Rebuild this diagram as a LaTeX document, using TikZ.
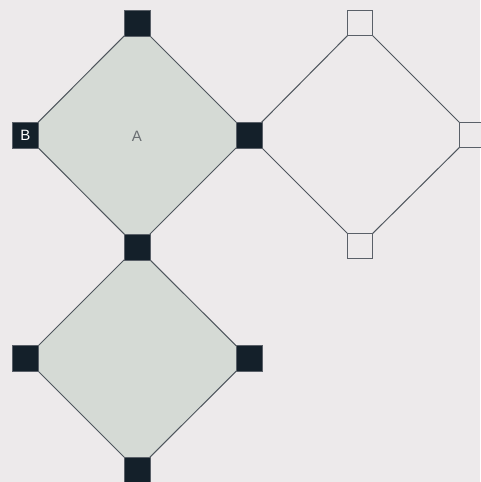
\documentclass[tikz,border=0pt]{standalone}
\usepackage{fontspec}
\setmainfont{Liberation Sans}
\definecolor{bg}{HTML}{EDEAEB}
\definecolor{dfill}{HTML}{D5DAD5}
\definecolor{dline}{HTML}{4F565D}
\definecolor{sqdark}{HTML}{14202A}
\definecolor{sqedge}{HTML}{5A6068}
\definecolor{txtgray}{HTML}{6A6E72}
\tikzset{
  darksq/.style={draw=sqedge, line width=0.9pt, fill=sqdark, minimum size=26pt, inner sep=0pt, text=white, font=\fontsize{15}{17}\selectfont},
  opensq/.style={draw=sqedge, line width=1.2pt, fill=bg, minimum size=25pt, inner sep=0pt},
  diamondfill/.style={fill=dfill, draw=dline, line width=1pt, line join=miter},
  diamondopen/.style={draw=dline, line width=1pt}
}
\begin{document}
\begin{tikzpicture}[x=1pt,y=-1pt]
\fill[bg] (0,0) rectangle (480,482);
\useasboundingbox (0,0) rectangle (480,482);
% coordinates of vertices
\coordinate (p1) at (137,23);
\coordinate (p2) at (25.5,135);
\coordinate (p3) at (249,135);
\coordinate (p4) at (137,247);
\coordinate (p5) at (25.5,358.5);
\coordinate (p6) at (249,358.5);
\coordinate (p7) at (137,470);
\coordinate (q1) at (360,23);
\coordinate (q2) at (472,135);
\coordinate (q3) at (360,246);
% diamonds
\draw[diamondfill] (p1) -- (p3) -- (p4) -- (p2) -- cycle;
\draw[diamondfill] (p4) -- (p6) -- (p7) -- (p5) -- cycle;
\draw[diamondopen] (q1) -- (q2) -- (q3) -- (p3) -- cycle;
\node[text=txtgray, font=\fontsize{15}{17}\selectfont] (A) at (137,136) {A};
% squares
\node[darksq] (s1) at (p1) {};
\node[darksq] (s2) at (p2) {B};
\node[darksq] (s3) at (p3) {};
\node[darksq] (s4) at (p4) {};
\node[darksq] (s5) at (p5) {};
\node[darksq] (s6) at (p6) {};
\node[darksq] (s7) at (p7) {};
\node[opensq] (o1) at (q1) {};
\node[opensq] (o2) at (q2) {};
\node[opensq] (o3) at (q3) {};
\end{tikzpicture}
\end{document}
